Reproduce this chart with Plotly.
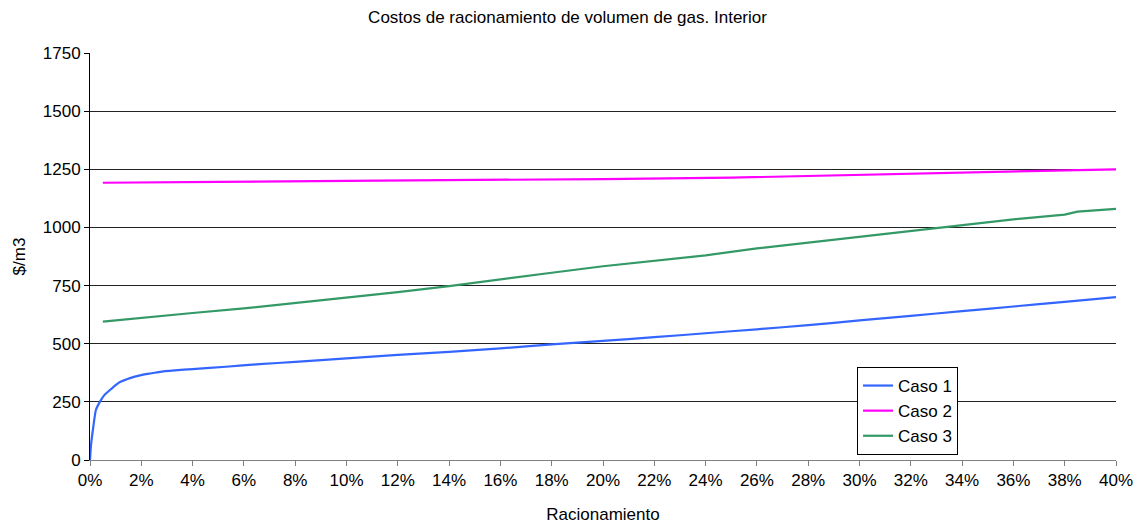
import plotly.graph_objects as go

# Caso 1
x1 = [0.0, 0.0004, 0.0013, 0.0023, 0.0039, 0.0055, 0.0078, 0.0100, 0.0117, 0.0156,
      0.0195, 0.0235, 0.0273, 0.033, 0.04, 0.053, 0.066, 0.08, 0.10, 0.12, 0.14,
      0.16, 0.18, 0.20, 0.22, 0.24, 0.26, 0.28, 0.30, 0.32, 0.34, 0.36, 0.38, 0.40]
y1 = [0, 65, 143, 215, 251, 278, 301, 322, 335, 352,
      364, 372, 379, 385, 391, 401, 412, 422, 437, 452, 465,
      480, 497, 512, 528, 545, 562, 580, 600, 620, 640, 660, 680, 700]

# Caso 2
x2 = [0.005, 0.02, 0.05, 0.10, 0.15, 0.20, 0.25, 0.30, 0.35, 0.40]
y2 = [1192, 1194, 1196, 1200, 1203, 1208, 1214, 1225, 1237, 1250]

# Caso 3
x3 = [0.005, 0.02, 0.04, 0.06, 0.08, 0.10, 0.12, 0.14, 0.16, 0.18, 0.20, 0.22,
      0.24, 0.26, 0.28, 0.30, 0.32, 0.34, 0.36, 0.38, 0.385, 0.40]
y3 = [595, 612, 632, 652, 675, 697, 722, 748, 775, 805, 833, 855,
      880, 910, 935, 958, 982, 1010, 1035, 1055, 1068, 1080]

y_ticks = [0, 250, 500, 750, 1000, 1250, 1500, 1750]

fig = go.Figure()
fig.add_trace(go.Scatter(x=x1, y=y1, mode="lines", name="Caso 1",
                         line=dict(color="#3366FF", width=2.2, shape="spline", smoothing=0.6)))
fig.add_trace(go.Scatter(x=x2, y=y2, mode="lines", name="Caso 2",
                         line=dict(color="#FF00FF", width=2.2)))
fig.add_trace(go.Scatter(x=x3, y=y3, mode="lines", name="Caso 3",
                         line=dict(color="#339966", width=2.2)))

fig.update_layout(
    width=1135, height=524,
    margin=dict(l=90, r=19, t=53, b=64),
    paper_bgcolor="white", plot_bgcolor="white",
    font=dict(family="Liberation Sans, Arial, sans-serif", size=17, color="black"),
    title=dict(text="Costos de racionamiento de volumen de gas. Interior",
               x=0.5, xanchor="center", y=0.9676, yanchor="middle",
               font=dict(size=17), automargin=False),
    showlegend=True,
    legend=dict(x=0.7476, y=0.2285, xanchor="left", yanchor="top",
                bordercolor="black", borderwidth=1, bgcolor="white",
                font=dict(size=17), itemwidth=30, tracegroupgap=0),
    xaxis=dict(range=[0, 0.4], tickvals=[i / 100 for i in range(0, 41, 2)],
               tickformat=".0%", showgrid=False, zeroline=False,
               showline=True, linecolor="#808080", linewidth=1,
               ticks="outside", ticklen=5, tickcolor="#808080",
               automargin=False,
               title=dict(text="Racionamiento", font=dict(size=17), standoff=18)),
    yaxis=dict(range=[0, 1750], tickvals=y_ticks, showgrid=True,
               gridcolor="#222222", gridwidth=1, zeroline=False,
               showline=True, linecolor="black", linewidth=1,
               ticks="outside", ticklen=5, tickcolor="black",
               automargin=False,
               title=dict(text="$/m3", font=dict(size=17), standoff=12)),
)

fig.write_html("out.html", config={"displayModeBar": False},
               post_script="document.body.style.margin='0';")
